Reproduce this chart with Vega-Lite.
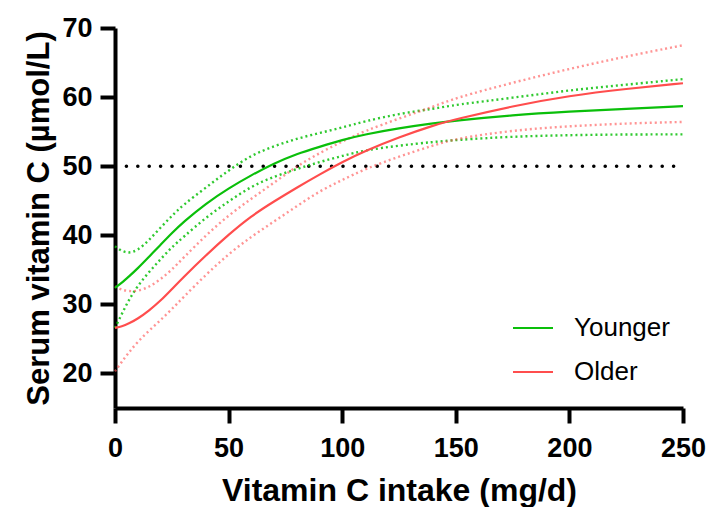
{
  "$schema": "https://vega.github.io/schema/vega-lite/v6.json",
  "width": 568,
  "height": 380,
  "autosize": "none",
  "padding": {"left": 115, "top": 28, "right": 24, "bottom": 99},
  "background": "white",
  "config": {
    "view": {"stroke": null},
    "font": "Liberation Sans",
    "axis": {
      "grid": false,
      "domainColor": "black",
      "domainWidth": 4,
      "tickColor": "black",
      "tickWidth": 4,
      "tickSize": 15,
      "labelFont": "Liberation Sans",
      "labelFontWeight": "bold",
      "labelFontSize": 27,
      "labelColor": "black",
      "titleFont": "Liberation Sans",
      "titleFontWeight": "bold",
      "titleColor": "black"
    },
    "legend": {"padding": 0}
  },
  "datasets": {
    "curves": [
      {"x":0,"v":32.4,"g":"Younger","k":"fit"},{"x":3,"v":33.1,"g":"Younger","k":"fit"},{"x":6,"v":34.0,"g":"Younger","k":"fit"},{"x":10,"v":35.2,"g":"Younger","k":"fit"},{"x":15,"v":36.9,"g":"Younger","k":"fit"},{"x":20,"v":38.6,"g":"Younger","k":"fit"},{"x":25,"v":40.3,"g":"Younger","k":"fit"},{"x":30,"v":41.9,"g":"Younger","k":"fit"},{"x":40,"v":44.6,"g":"Younger","k":"fit"},{"x":50,"v":46.8,"g":"Younger","k":"fit"},{"x":60,"v":48.7,"g":"Younger","k":"fit"},{"x":70,"v":50.4,"g":"Younger","k":"fit"},{"x":80,"v":51.8,"g":"Younger","k":"fit"},{"x":90,"v":52.8,"g":"Younger","k":"fit"},{"x":100,"v":53.8,"g":"Younger","k":"fit"},{"x":110,"v":54.6,"g":"Younger","k":"fit"},{"x":125,"v":55.5,"g":"Younger","k":"fit"},{"x":140,"v":56.2,"g":"Younger","k":"fit"},{"x":150,"v":56.6,"g":"Younger","k":"fit"},{"x":175,"v":57.4,"g":"Younger","k":"fit"},{"x":200,"v":57.9,"g":"Younger","k":"fit"},{"x":225,"v":58.3,"g":"Younger","k":"fit"},{"x":250,"v":58.7,"g":"Younger","k":"fit"},

      {"x":0,"v":38.4,"g":"Younger","k":"upper"},{"x":3,"v":37.7,"g":"Younger","k":"upper"},{"x":6,"v":37.4,"g":"Younger","k":"upper"},{"x":10,"v":37.8,"g":"Younger","k":"upper"},{"x":15,"v":39.3,"g":"Younger","k":"upper"},{"x":20,"v":41.1,"g":"Younger","k":"upper"},{"x":25,"v":42.8,"g":"Younger","k":"upper"},{"x":30,"v":44.4,"g":"Younger","k":"upper"},{"x":40,"v":46.9,"g":"Younger","k":"upper"},{"x":50,"v":49.4,"g":"Younger","k":"upper"},{"x":60,"v":51.6,"g":"Younger","k":"upper"},{"x":70,"v":52.9,"g":"Younger","k":"upper"},{"x":80,"v":54.0,"g":"Younger","k":"upper"},{"x":90,"v":54.8,"g":"Younger","k":"upper"},{"x":100,"v":55.6,"g":"Younger","k":"upper"},{"x":110,"v":56.5,"g":"Younger","k":"upper"},{"x":125,"v":57.6,"g":"Younger","k":"upper"},{"x":140,"v":58.3,"g":"Younger","k":"upper"},{"x":150,"v":58.9,"g":"Younger","k":"upper"},{"x":175,"v":59.9,"g":"Younger","k":"upper"},{"x":200,"v":61.0,"g":"Younger","k":"upper"},{"x":225,"v":61.8,"g":"Younger","k":"upper"},{"x":250,"v":62.6,"g":"Younger","k":"upper"},

      {"x":0,"v":26.6,"g":"Younger","k":"lower"},{"x":3,"v":28.6,"g":"Younger","k":"lower"},{"x":6,"v":30.6,"g":"Younger","k":"lower"},{"x":10,"v":32.7,"g":"Younger","k":"lower"},{"x":15,"v":34.7,"g":"Younger","k":"lower"},{"x":20,"v":36.5,"g":"Younger","k":"lower"},{"x":25,"v":38.3,"g":"Younger","k":"lower"},{"x":30,"v":39.7,"g":"Younger","k":"lower"},{"x":40,"v":42.6,"g":"Younger","k":"lower"},{"x":50,"v":44.9,"g":"Younger","k":"lower"},{"x":60,"v":47.1,"g":"Younger","k":"lower"},{"x":70,"v":48.5,"g":"Younger","k":"lower"},{"x":80,"v":49.6,"g":"Younger","k":"lower"},{"x":90,"v":50.6,"g":"Younger","k":"lower"},{"x":100,"v":51.5,"g":"Younger","k":"lower"},{"x":110,"v":52.3,"g":"Younger","k":"lower"},{"x":125,"v":53.0,"g":"Younger","k":"lower"},{"x":140,"v":53.5,"g":"Younger","k":"lower"},{"x":150,"v":53.8,"g":"Younger","k":"lower"},{"x":175,"v":54.3,"g":"Younger","k":"lower"},{"x":200,"v":54.5,"g":"Younger","k":"lower"},{"x":225,"v":54.6,"g":"Younger","k":"lower"},{"x":250,"v":54.6,"g":"Younger","k":"lower"},

      {"x":0,"v":26.6,"g":"Older","k":"fit"},{"x":3,"v":26.8,"g":"Older","k":"fit"},{"x":6,"v":27.2,"g":"Older","k":"fit"},{"x":10,"v":27.9,"g":"Older","k":"fit"},{"x":15,"v":29.1,"g":"Older","k":"fit"},{"x":20,"v":30.5,"g":"Older","k":"fit"},{"x":25,"v":32.2,"g":"Older","k":"fit"},{"x":30,"v":33.9,"g":"Older","k":"fit"},{"x":40,"v":37.1,"g":"Older","k":"fit"},{"x":50,"v":40.1,"g":"Older","k":"fit"},{"x":60,"v":42.8,"g":"Older","k":"fit"},{"x":70,"v":44.9,"g":"Older","k":"fit"},{"x":80,"v":46.9,"g":"Older","k":"fit"},{"x":90,"v":48.8,"g":"Older","k":"fit"},{"x":100,"v":50.6,"g":"Older","k":"fit"},{"x":110,"v":52.2,"g":"Older","k":"fit"},{"x":125,"v":54.2,"g":"Older","k":"fit"},{"x":140,"v":55.9,"g":"Older","k":"fit"},{"x":150,"v":56.8,"g":"Older","k":"fit"},{"x":175,"v":58.7,"g":"Older","k":"fit"},{"x":200,"v":60.2,"g":"Older","k":"fit"},{"x":225,"v":61.2,"g":"Older","k":"fit"},{"x":250,"v":62.0,"g":"Older","k":"fit"},

      {"x":0,"v":32.6,"g":"Older","k":"upper"},{"x":3,"v":32.1,"g":"Older","k":"upper"},{"x":6,"v":31.9,"g":"Older","k":"upper"},{"x":10,"v":31.9,"g":"Older","k":"upper"},{"x":15,"v":32.5,"g":"Older","k":"upper"},{"x":20,"v":33.6,"g":"Older","k":"upper"},{"x":25,"v":35.0,"g":"Older","k":"upper"},{"x":30,"v":36.7,"g":"Older","k":"upper"},{"x":40,"v":40.0,"g":"Older","k":"upper"},{"x":50,"v":42.9,"g":"Older","k":"upper"},{"x":60,"v":45.3,"g":"Older","k":"upper"},{"x":70,"v":47.6,"g":"Older","k":"upper"},{"x":80,"v":50.0,"g":"Older","k":"upper"},{"x":90,"v":51.9,"g":"Older","k":"upper"},{"x":100,"v":53.6,"g":"Older","k":"upper"},{"x":110,"v":55.1,"g":"Older","k":"upper"},{"x":125,"v":56.9,"g":"Older","k":"upper"},{"x":140,"v":58.6,"g":"Older","k":"upper"},{"x":150,"v":59.9,"g":"Older","k":"upper"},{"x":175,"v":62.1,"g":"Older","k":"upper"},{"x":200,"v":64.1,"g":"Older","k":"upper"},{"x":225,"v":65.9,"g":"Older","k":"upper"},{"x":250,"v":67.5,"g":"Older","k":"upper"},

      {"x":0,"v":20.3,"g":"Older","k":"lower"},{"x":3,"v":21.7,"g":"Older","k":"lower"},{"x":6,"v":23.0,"g":"Older","k":"lower"},{"x":10,"v":24.6,"g":"Older","k":"lower"},{"x":15,"v":26.2,"g":"Older","k":"lower"},{"x":20,"v":27.7,"g":"Older","k":"lower"},{"x":25,"v":29.3,"g":"Older","k":"lower"},{"x":30,"v":31.0,"g":"Older","k":"lower"},{"x":40,"v":34.3,"g":"Older","k":"lower"},{"x":50,"v":37.3,"g":"Older","k":"lower"},{"x":60,"v":39.8,"g":"Older","k":"lower"},{"x":70,"v":42.0,"g":"Older","k":"lower"},{"x":80,"v":44.2,"g":"Older","k":"lower"},{"x":90,"v":46.4,"g":"Older","k":"lower"},{"x":100,"v":48.0,"g":"Older","k":"lower"},{"x":110,"v":49.6,"g":"Older","k":"lower"},{"x":125,"v":51.4,"g":"Older","k":"lower"},{"x":140,"v":53.0,"g":"Older","k":"lower"},{"x":150,"v":54.0,"g":"Older","k":"lower"},{"x":175,"v":55.2,"g":"Older","k":"lower"},{"x":200,"v":55.8,"g":"Older","k":"lower"},{"x":225,"v":56.2,"g":"Older","k":"lower"},{"x":250,"v":56.4,"g":"Older","k":"lower"}
    ],
    "ref": [{"x": 5, "x2": 247, "v": 50}]
  },
  "layer": [
    {
      "data": {"name": "ref"},
      "mark": {"type": "rule", "color": "black", "strokeWidth": 3.5, "strokeCap": "round", "strokeDash": [0.1, 11.3]},
      "encoding": {
        "x": {
          "field": "x", "type": "quantitative",
          "scale": {"domain": [0, 250], "nice": false, "zero": false},
          "axis": {"values": [0, 50, 100, 150, 200, 250], "title": "Vitamin C intake (mg/d)", "titleFontSize": 32, "labelPadding": 12, "titlePadding": 14, "labelFlush": false}
        },
        "x2": {"field": "x2"},
        "y": {
          "field": "v", "type": "quantitative",
          "scale": {"domain": [15, 70], "nice": false, "zero": false},
          "axis": {"values": [20, 30, 40, 50, 60, 70], "title": "Serum vitamin C (µmol/L)", "titleFontSize": 31, "labelPadding": 8, "titlePadding": 6, "labelFlush": false}
        }
      }
    },
    {
      "data": {"name": "curves"},
      "transform": [{"filter": "datum.k !== 'fit' && datum.g === 'Younger'"}],
      "mark": {"type": "line", "interpolate": "basis", "strokeWidth": 2.4, "strokeDash": [2, 3], "color": "#0ABF0A", "opacity": 0.85},
      "encoding": {
        "x": {"field": "x", "type": "quantitative"},
        "y": {"field": "v", "type": "quantitative"},
        "detail": {"field": "k", "type": "nominal"}
      }
    },
    {
      "data": {"name": "curves"},
      "transform": [{"filter": "datum.k !== 'fit' && datum.g === 'Older'"}],
      "mark": {"type": "line", "interpolate": "basis", "strokeWidth": 2.4, "strokeDash": [2, 3], "color": "#FF4D4D", "opacity": 0.6},
      "encoding": {
        "x": {"field": "x", "type": "quantitative"},
        "y": {"field": "v", "type": "quantitative"},
        "detail": {"field": "k", "type": "nominal"}
      }
    },
    {
      "data": {"name": "curves"},
      "transform": [{"filter": "datum.k === 'fit'"}],
      "mark": {"type": "line", "interpolate": "basis", "strokeWidth": 2.2},
      "encoding": {
        "x": {"field": "x", "type": "quantitative"},
        "y": {"field": "v", "type": "quantitative"},
        "color": {
          "field": "g", "type": "nominal",
          "scale": {"domain": ["Younger", "Older"], "range": ["#0ABF0A", "#FF4D4D"]},
          "legend": {
            "title": null,
            "orient": "none",
            "legendX": 397,
            "legendY": 279,
            "symbolType": "stroke",
            "symbolSize": 1600,
            "symbolStrokeWidth": 2,
            "labelFontSize": 26,
            "labelFont": "Liberation Sans",
            "labelColor": "black",
            "labelOffset": 20,
            "rowPadding": 10
          }
        }
      }
    }
  ]
}
